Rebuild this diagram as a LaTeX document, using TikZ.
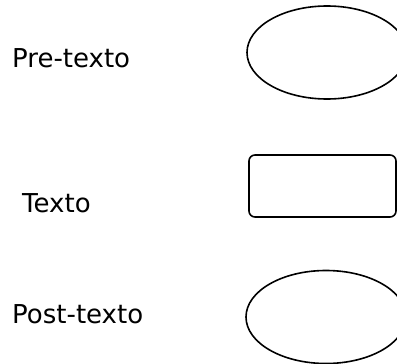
\documentclass[tikz,border=0pt]{standalone}
\usepackage{fontspec}
\setmainfont{DejaVu Sans}
\usetikzlibrary{shapes.geometric}

\begin{document}
\begin{tikzpicture}[x=1pt, y=-1pt,
    parttext/.style={anchor=base west, inner sep=0pt, font=\fontsize{26}{30}\selectfont},
    ovalpart/.style={ellipse, draw, line width=1.6pt, minimum width=160pt, minimum height=93pt},
    boxpart/.style={rectangle, draw, line width=1.6pt, rounded corners=6pt, minimum width=147pt, minimum height=62pt}]
  \useasboundingbox (0,0) rectangle (397,364);
  \clip (0,0) rectangle (397,364);

  \node[parttext] (pretext) at (12, 67) {Pre-texto};
  \node[parttext] (text) at (22, 212) {Texto};
  \node[parttext] (posttext) at (12, 323) {Post-texto};

  \node[ovalpart] (preoval) at (327, 52.5) {};
  \node[boxpart] (textbox) at (322.5, 186) {};
  \node[ovalpart] (postoval) at (326, 317) {};
\end{tikzpicture}
\end{document}
